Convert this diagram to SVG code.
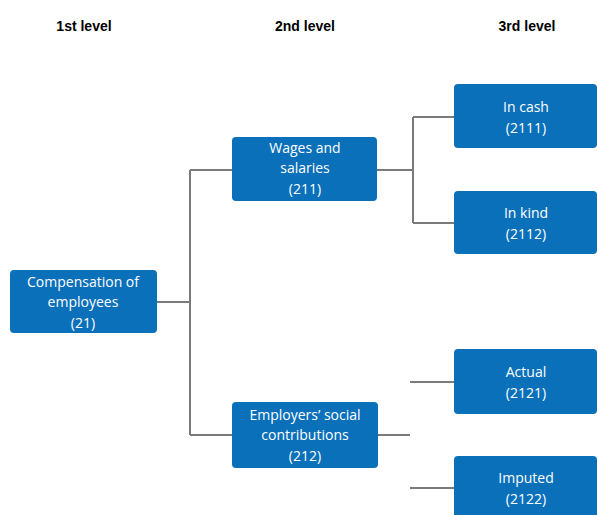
<svg xmlns="http://www.w3.org/2000/svg" width="598" height="515" viewBox="0 0 598 515">
<style>
.hdr{font-family:"Liberation Sans",Arial,sans-serif;font-weight:bold;font-size:14px;fill:#000;text-anchor:middle}
.box{fill:#0a70b9}
.lbl{font-family:"Open Sans","Noto Sans",sans-serif;font-size:14px;fill:#fff;text-anchor:middle}
.con{stroke:#7a7a7a;stroke-width:2;fill:none}
</style>
<rect width="598" height="515" fill="#fff"/>
<g id="headers">
<text class="hdr" x="84" y="31">1st level</text>
<text class="hdr" x="305" y="31">2nd level</text>
<text class="hdr" x="527" y="31">3rd level</text>
</g>
<g id="connectors">
<path class="con" d="M157 302H190M190 170V435M190 170H232M190 435H232"/>
<path class="con" d="M377 170H413M413 117V223M413 117H454M413 223H454"/>
<path class="con" d="M378 435H410M410 382H454M410 488H454"/>
</g>
<g id="n21">
<rect class="box" x="10" y="270" width="147" height="63" rx="4"/>
<text class="lbl" x="83" y="287">Compensation of</text>
<text class="lbl" x="83" y="307">employees</text>
<text class="lbl" x="83" y="328">(21)</text>
</g>
<g id="n211">
<rect class="box" x="232" y="137" width="145" height="64" rx="4"/>
<text class="lbl" x="305" y="153">Wages and</text>
<text class="lbl" x="305" y="173">salaries</text>
<text class="lbl" x="305" y="194">(211)</text>
</g>
<g id="n212">
<rect class="box" x="232" y="402" width="146" height="66" rx="4"/>
<text class="lbl" x="305" y="420">Employers’ social</text>
<text class="lbl" x="305" y="440">contributions</text>
<text class="lbl" x="305" y="461">(212)</text>
</g>
<g id="n2111">
<rect class="box" x="454" y="84" width="143" height="64" rx="4"/>
<text class="lbl" x="526" y="112">In cash</text>
<text class="lbl" x="526" y="133">(2111)</text>
</g>
<g id="n2112">
<rect class="box" x="454" y="191" width="143" height="63" rx="4"/>
<text class="lbl" x="526" y="218">In kind</text>
<text class="lbl" x="526" y="239">(2112)</text>
</g>
<g id="n2121">
<rect class="box" x="454" y="349" width="143" height="65" rx="4"/>
<text class="lbl" x="526" y="377">Actual</text>
<text class="lbl" x="526" y="398">(2121)</text>
</g>
<g id="n2122">
<rect class="box" x="454" y="456" width="143" height="70" rx="4"/>
<text class="lbl" x="526" y="483">Imputed</text>
<text class="lbl" x="526" y="504">(2122)</text>
</g>
</svg>
